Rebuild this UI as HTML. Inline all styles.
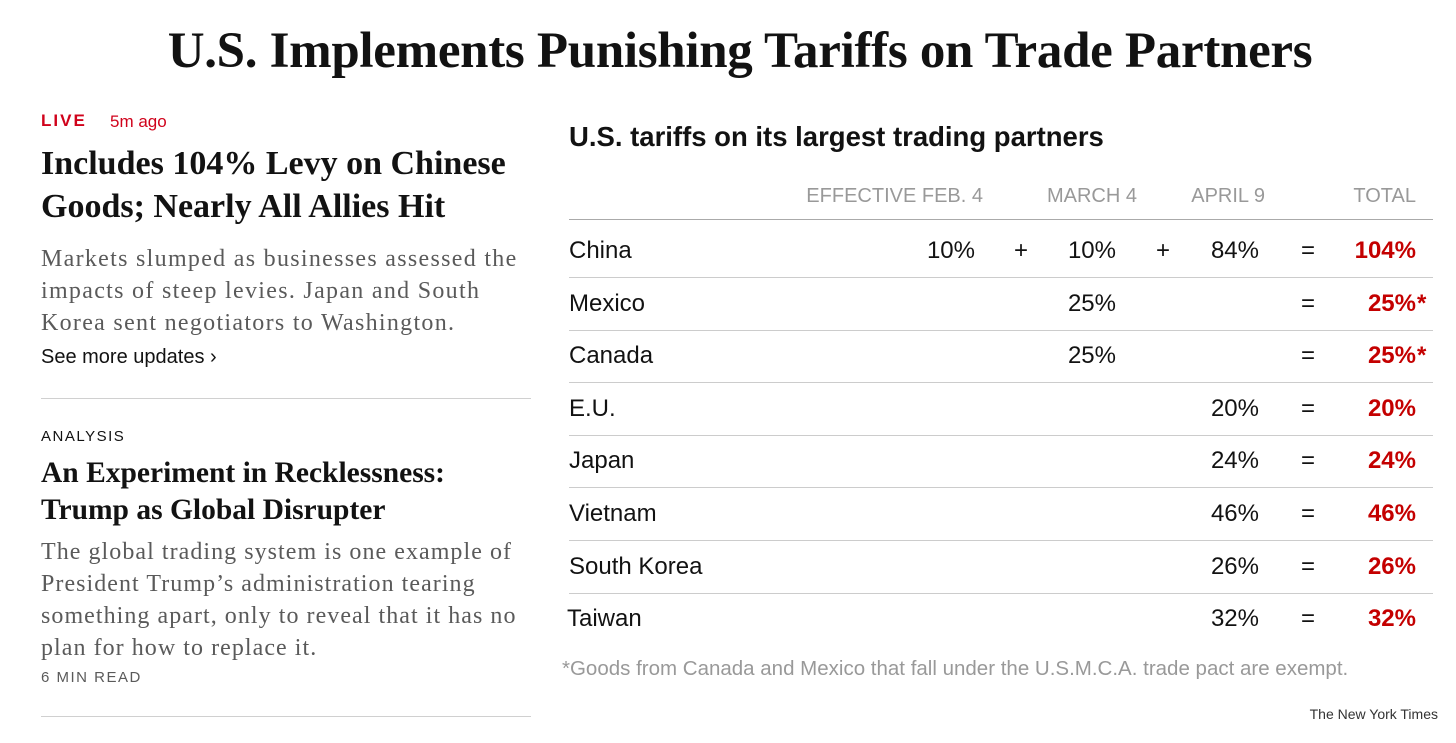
<!DOCTYPE html>
<html><head><meta charset="utf-8">
<style>
body{margin:0;width:1456px;height:743px;background:#fff;position:relative;overflow:hidden;font-family:"Liberation Sans",sans-serif;color:#121212}
.a{position:absolute;white-space:nowrap}
.serif{font-family:"Liberation Serif",serif}
.r{text-align:right}
.hr{position:absolute;height:1px;background:#d0d0d0}
</style></head><body>
<div class="a serif" style="left:0;width:1480px;text-align:center;top:22px;font-size:51px;font-weight:bold;letter-spacing:-0.3px">U.S. Implements Punishing Tariffs on Trade Partners</div>

<div class="a" style="left:41px;top:111px;font-size:17px;font-weight:bold;color:#d0021b;letter-spacing:2px">LIVE</div>
<div class="a" style="left:110px;top:112px;font-size:17px;color:#d0021b">5m ago</div>
<a class="a serif" style="left:41px;top:142px;font-size:34px;font-weight:bold;line-height:43px;color:#121212">Includes 104% Levy on Chinese<br>Goods; Nearly All Allies Hit</a>
<div class="a serif" style="left:41px;top:243px;font-size:24px;letter-spacing:1.3px;line-height:32px;color:#5a5a5a">Markets slumped as businesses assessed the<br>impacts of steep levies. Japan and South<br>Korea sent negotiators to Washington.</div>
<a class="a" style="left:41px;top:346px;font-size:20px">See more updates ›</a>
<div class="hr" style="left:41px;width:490px;top:398px"></div>
<div class="a" style="left:41px;top:428px;font-size:15px;letter-spacing:1.5px">ANALYSIS</div>
<a class="a serif" style="left:41px;top:455px;font-size:29.5px;font-weight:bold;line-height:37px;color:#121212">An Experiment in Recklessness:<br>Trump as Global Disrupter</a>
<div class="a serif" style="left:41px;top:536px;font-size:24px;letter-spacing:1.05px;line-height:32px;color:#5a5a5a">The global trading system is one example of<br>President Trump’s administration tearing<br>something apart, only to reveal that it has no<br>plan for how to replace it.</div>
<div class="a" style="left:41px;top:669px;font-size:15px;letter-spacing:1.5px;color:#5a5a5a">6 MIN READ</div>
<div class="hr" style="left:41px;width:490px;top:716px"></div>

<div class="a" style="left:569px;top:121px;font-size:27.5px;font-weight:bold">U.S. tariffs on its largest trading partners</div>
<div id="tbl"></div>
<div class="a" style="left:562px;top:657px;font-size:20.5px;color:#999">*Goods from Canada and Mexico that fall under the U.S.M.C.A. trade pact are exempt.</div>
<div class="a" style="left:1238px;width:200px;text-align:right;top:706px;font-size:14px;color:#333">The New York Times</div>

<script>
const headers=["EFFECTIVE FEB. 4","MARCH 4","APRIL 9","TOTAL"];
const countries=["China","Mexico","Canada","E.U.","Japan","Vietnam","South Korea","Taiwan"];
const feb4=[10,null,null,null,null,null,null,null];
const mar4=[10,25,25,null,null,null,null,null];
const apr9=[84,null,null,20,24,46,26,32];
const asterisk=[false,true,true,false,false,false,false,false];

const T=document.getElementById('tbl');
function add(txt,left,right,top,style,name){
  const d=document.createElement('div');
  d.className='a';
  d.textContent=txt;
  d.style.cssText=style+';top:'+top+'px;'+(right!=null?'right:'+(1456-right)+'px':'left:'+left+'px');
  
  
  T.appendChild(d);
  return d;
}
const hx=[983,1137,1265,1416];
headers.forEach((h,i)=>add(h,null,hx[i],185,'font-size:20px;color:#999','column-header'));
function line(top){
  const l=document.createElement('div');
  l.className='hr';
  l.style.cssText='left:569px;width:864px;top:'+top+'px;background:'+(top<230?'#aaa':'#ccc');
  
  
  T.appendChild(l);
}
line(219);
const pitch=52.6;
countries.forEach((c,i)=>{
  const y=237+i*pitch;
  add(c,i==7?567:569,null,y,'font-size:24px','country-name');
  if(feb4[i]!=null)add(feb4[i]+'%',null,975,y,'font-size:24px','feb4-value');
  if(feb4[i]!=null&&mar4[i]!=null)add('+',1014,null,y,'font-size:24px','plus-sign');
  if(mar4[i]!=null)add(mar4[i]+'%',null,1116,y,'font-size:24px','mar4-value');
  if(mar4[i]!=null&&apr9[i]!=null)add('+',1156,null,y,'font-size:24px','plus-sign');
  if(apr9[i]!=null)add(apr9[i]+'%',null,1259,y,'font-size:24px','apr9-value');
  add('=',1301,null,y,'font-size:24px','equals-sign');
  const tot=(feb4[i]||0)+(mar4[i]||0)+(apr9[i]||0);
  add(tot+'%',null,1416,y,'font-size:24px;font-weight:bold;color:#c40000','total-value');
  if(asterisk[i])add('*',1417,null,y,'font-size:24px;font-weight:bold;color:#c40000','asterisk');
  if(i<7)line(Math.round(277+i*pitch));
});
</script>
</body></html>
